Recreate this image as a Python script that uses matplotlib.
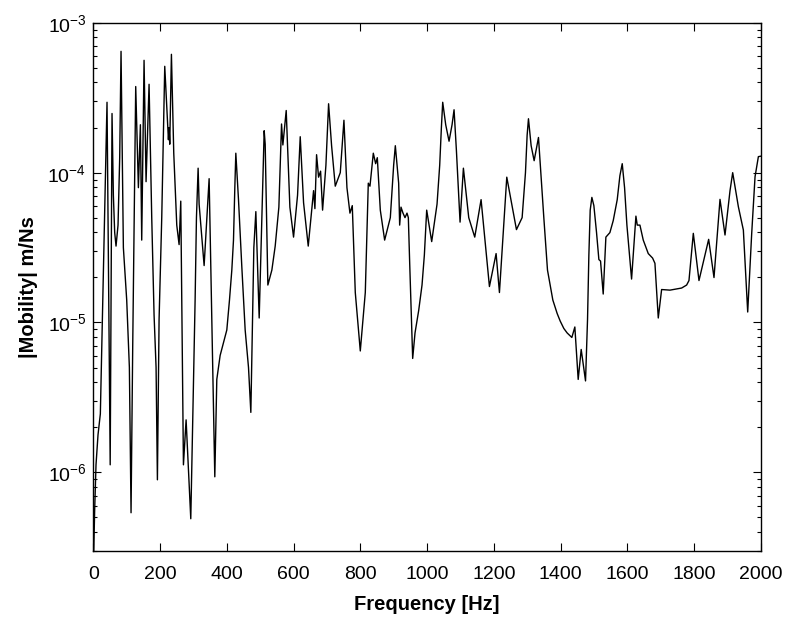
import numpy as np
import matplotlib
matplotlib.use("Agg")
import matplotlib.pyplot as plt
from matplotlib.ticker import LogLocator, FixedLocator

# Frequency [Hz] and log10(|mobility|)
freq = [0, 4, 8, 14, 21, 31, 36, 41, 50.5, 56, 60, 64, 68, 74, 79, 83,
        90, 100, 108, 113, 118, 127, 135, 141, 145, 152, 158, 167,
        175, 182, 188, 192, 197, 205, 214, 220, 225, 227, 229, 234,
        241, 250, 257, 262, 270, 278, 292, 305, 309, 314, 317, 332, 347,
        364, 370, 380, 400, 408, 415, 420, 424, 427, 435, 445, 455, 465,
        472, 481, 487, 497, 512, 515, 523, 535, 545, 556, 564, 568, 578,
        589, 600, 612, 620, 630, 644, 660, 664, 669, 675, 681, 687, 697, 705, 714, 725,
        740, 751, 760, 769, 776, 785, 800, 815, 824, 829, 839, 846, 851, 860, 873,
        890, 900, 905, 915, 918, 922, 928, 934, 940, 944, 948, 957, 964, 975, 985,
        992, 999, 1014, 1030, 1038, 1043, 1047, 1056, 1066, 1075, 1081, 1088, 1099, 1109, 1125,
        1143, 1162, 1187, 1207, 1217, 1239, 1268, 1285, 1295, 1300, 1304, 1312, 1321, 1334,
        1350, 1361, 1377, 1390, 1399, 1410, 1420, 1434, 1443, 1453, 1462,
        1475, 1481, 1485, 1489, 1494, 1500, 1508, 1515, 1520, 1528, 1536,
        1548, 1558, 1570, 1578, 1585, 1592, 1599, 1613, 1626, 1630, 1638, 1648, 1663,
        1676, 1683, 1693, 1703, 1728, 1763, 1778, 1785, 1798, 1815, 1844,
        1860, 1878, 1893, 1908, 1916, 1933, 1948, 1961, 1973, 1983, 1993, 2000]

log_mob = [-6.65, -6.25, -5.95, -5.75, -5.61, -4.57, -4.05, -3.53, -5.95, -3.605,
           -4.15, -4.4, -4.49, -4.35, -3.9, -3.19,
           -4.5, -4.85, -5.3, -6.27, -5.16, -3.425, -4.10, -3.68, -4.45, -3.25, -4.06, -3.41,
           -4.3, -4.95, -5.3, -6.05, -4.98, -4.3, -3.29, -3.56, -3.78, -3.70, -3.81, -3.21,
           -3.87, -4.35, -4.48, -4.19, -5.95, -5.65, -6.31, -4.85, -4.3, -3.97, -4.21, -4.62, -4.04,
           -6.03, -5.38, -5.22, -5.05, -4.85, -4.65, -4.45, -4.1, -3.87, -4.18, -4.63, -5.05, -5.30,
           -5.60, -4.5, -4.26, -4.97, -3.72, -3.81, -4.75, -4.65, -4.49, -4.23, -3.675, -3.815, -3.585,
           -4.23, -4.43, -4.15, -3.76, -4.2, -4.49, -4.12, -4.24, -3.88, -4.03, -3.99, -4.25, -3.95, -3.54, -3.82, -4.09,
           -4.0, -3.65, -4.10, -4.27, -4.22, -4.80, -5.19, -4.80, -4.07, -4.09, -3.87, -3.94, -3.90, -4.25, -4.45,
           -4.3, -3.95, -3.82, -4.07, -4.35, -4.23, -4.27, -4.30, -4.27, -4.30, -4.6, -5.24, -5.07, -4.92, -4.75,
           -4.55, -4.25, -4.46, -4.21, -3.95, -3.7, -3.53, -3.68, -3.79, -3.68, -3.58, -3.85, -4.33, -3.97, -4.30,
           -4.43, -4.18, -4.76, -4.54, -4.80, -4.03, -4.38, -4.30, -4.0, -3.75, -3.64, -3.82, -3.92, -3.765,
           -4.3, -4.65, -4.85, -4.94, -4.99, -5.04, -5.07, -5.10, -5.03, -5.38, -5.18,
           -5.39, -4.98, -4.55, -4.25, -4.165, -4.22, -4.40, -4.58, -4.59, -4.81, -4.43,
           -4.40, -4.32, -4.18, -4.02, -3.94, -4.1, -4.35, -4.71, -4.29, -4.35, -4.35, -4.45, -4.54,
           -4.57, -4.605, -4.97, -4.78, -4.784, -4.77, -4.75, -4.72, -4.405, -4.72, -4.445,
           -4.70, -4.178, -4.416, -4.12, -4.0, -4.227, -4.383, -4.93, -4.405, -4.027, -3.893, -3.89]

x_ticks = [0, 200, 400, 600, 800, 1000, 1200, 1400, 1600, 1800, 2000]

mobility = 10 ** np.array(log_mob)

plt.rcParams['font.family'] = ['Liberation Sans', 'DejaVu Sans']
plt.rcParams['mathtext.fontset'] = 'custom'
plt.rcParams['mathtext.rm'] = 'Liberation Sans'

fig = plt.figure(figsize=(7.87, 6.18), dpi=100)
ax = fig.add_axes([0.1186, 0.109, 0.848, 0.854])

ax.plot(freq, mobility, color='black', linewidth=1.0)

ax.set_yscale('log')
ax.set_xlim(0, 2000)
ax.set_ylim(3e-7, 1e-3)
ax.xaxis.set_major_locator(FixedLocator(x_ticks))
ax.yaxis.set_major_locator(LogLocator(base=10, numticks=10))
ax.yaxis.set_minor_locator(LogLocator(base=10, subs=np.arange(2, 10), numticks=10))

ax.tick_params(which='both', direction='in', top=True, right=True,
               labelsize=14, width=0.8)
ax.tick_params(which='major', length=6)
ax.tick_params(axis='x', which='major', pad=11)
ax.tick_params(axis='y', which='major', pad=5)
ax.tick_params(which='minor', length=3)
ax.tick_params(axis='x', which='minor', top=False, bottom=False)
for s in ax.spines.values():
    s.set_linewidth(1.0)

ax.set_xlabel('Frequency [Hz]', fontsize=14.5, fontweight='bold', labelpad=9)
ax.set_ylabel('|Mobility| m/Ns', fontsize=14.5, fontweight='bold', labelpad=7)

fig.savefig('out.png', dpi=100)
